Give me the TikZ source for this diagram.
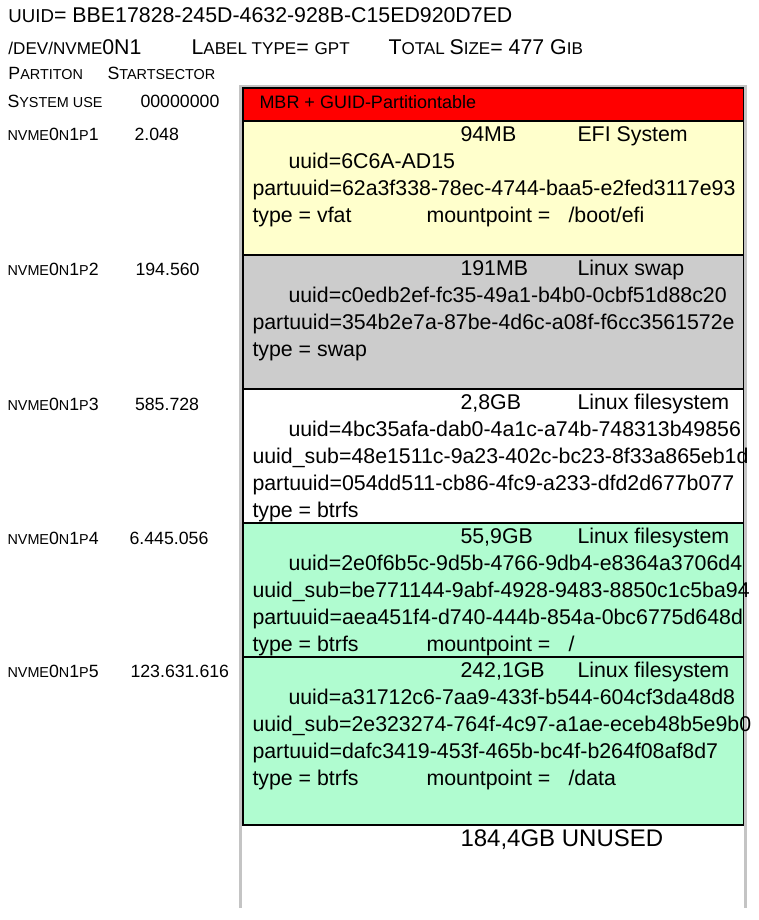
\documentclass[tikz,border=0pt]{standalone}
\usepackage{fontspec}
\setmainfont{Liberation Sans}

\definecolor{mbrred}{RGB}{255,0,0}
\definecolor{efiyellow}{RGB}{255,255,204}
\definecolor{swapgray}{RGB}{204,204,204}
\definecolor{fsgreen}{RGB}{176,252,208}
\definecolor{framegray}{RGB}{196,196,196}

% fake small caps
\newcommand\smcA[1]{{\fontsize{12.8}{15}\selectfont #1}}
\newcommand\smcB[1]{{\fontsize{10.8}{13}\selectfont #1}}

\tikzset{every picture/.style={line width=0.75pt},
  partbox/.style={draw=black, line width=1.1pt},
  txt/.style={anchor=base west, inner sep=0pt, font=\fontsize{16}{19}\selectfont},
  side/.style={anchor=base west, inner sep=0pt, font=\fontsize{13.3}{16}\selectfont}}

\begin{document}
\begin{tikzpicture}[x=0.75pt,y=0.75pt,yscale=-1,xscale=1]
    \useasboundingbox (0,0) rectangle (758,920);

    %Shape: Frame
    \draw [color=framegray, line width=2.1pt] (240.6,908) -- (240.6,86.5) -- (745.6,86.5) -- (745.6,908) ;

    %Shape: Rectangle
    \draw [partbox, fill=mbrred] (243,88) -- (743.5,88) -- (743.5,121) -- (243,121) -- cycle ;
    %Shape: Rectangle
    \draw [partbox, fill=efiyellow] (243,121) -- (743.5,121) -- (743.5,255) -- (243,255) -- cycle ;
    %Shape: Rectangle
    \draw [partbox, fill=swapgray] (243,255) -- (743.5,255) -- (743.5,389) -- (243,389) -- cycle ;
    %Shape: Rectangle
    \draw [partbox, fill=white] (243,389) -- (743.5,389) -- (743.5,523) -- (243,523) -- cycle ;
    %Shape: Rectangle
    \draw [partbox, fill=fsgreen] (243,523) -- (743.5,523) -- (743.5,657) -- (243,657) -- cycle ;
    %Shape: Rectangle
    \draw [partbox, fill=fsgreen] (243,657) -- (743.5,657) -- (743.5,825) -- (243,825) -- cycle ;

    % Text Node
    \draw (8,22.6) node [txt] (hdruuid) {{\fontsize{14}{17}\selectfont UUID}= BBE17828-245D-4632-928B-C15ED920D7ED};
    % Text Node
    \draw (8,54.6) node [txt] (hdrdev) {\smcA{/DEV/NVME}0N1};
    % Text Node
    \draw (191,54.6) node [txt] (hdrlabel) {L\smcA{ABEL TYPE}= \smcA{GPT}};
    % Text Node
    \draw (388,54.6) node [txt] (hdrsize) {T\smcA{OTAL }S\smcA{IZE}= 477 G\smcA{IB}};
    % Text Node
    \draw (8,79.3) node [side] (colpart) {P\smcB{ARTITON}};
    % Text Node
    \draw (107,79.3) node [side] (colstart) {S\smcB{TARTSECTOR}};

    % Text Node
    \draw (7,107.5) node [side] (sysname) {S\smcB{YSTEM USE}};
    % Text Node
    \draw (140,107.5) node [side] (sysstart) {00000000};
    % Text Node
    \draw (7,140.7) node [side] (p1name) {\smcB{NVME}0\smcB{N}1\smcB{P}1};
    % Text Node
    \draw (134,140.7) node [side] (p1start) {2.048};
    % Text Node
    \draw (7,275.7) node [side] (p2name) {\smcB{NVME}0\smcB{N}1\smcB{P}2};
    % Text Node
    \draw (135,275.7) node [side] (p2start) {194.560};
    % Text Node
    \draw (7,410) node [side] (p3name) {\smcB{NVME}0\smcB{N}1\smcB{P}3};
    % Text Node
    \draw (134.5,410) node [side] (p3start) {585.728};
    % Text Node
    \draw (7,544) node [side] (p4name) {\smcB{NVME}0\smcB{N}1\smcB{P}4};
    % Text Node
    \draw (129,544) node [side] (p4start) {6.445.056};
    % Text Node
    \draw (7,677) node [side] (p5name) {\smcB{NVME}0\smcB{N}1\smcB{P}5};
    % Text Node
    \draw (130,677) node [side] (p5start) {123.631.616};

    % Text Node
    \draw (259,108.5) node [txt, font=\fontsize{13.5}{16}\selectfont] (mbr) {MBR + GUID-Partitiontable};

    % Text Node
    \draw (460,141.5) node [txt] (p1size) {94MB};
    % Text Node
    \draw (577,141.5) node [txt] (p1kind) {EFI System};
    % Text Node
    \draw (288,168.5) node [txt] (p1uuid) {uuid=6C6A-AD15};
    % Text Node
    \draw (252,195.5) node [txt] (p1partuuid) {partuuid=62a3f338-78ec-4744-baa5-e2fed3117e93};
    % Text Node
    \draw (252,222.5) node [txt] (p1type) {type = vfat};
    % Text Node
    \draw (426,222.5) node [txt] (p1mount) {mountpoint =};
    % Text Node
    \draw (568,222.5) node [txt] (p1path) {/boot/efi};

    % Text Node
    \draw (460,275.5) node [txt] (p2size) {191MB};
    % Text Node
    \draw (577,275.5) node [txt] (p2kind) {Linux swap};
    % Text Node
    \draw (288,302.5) node [txt] (p2uuid) {uuid=c0edb2ef-fc35-49a1-b4b0-0cbf51d88c20};
    % Text Node
    \draw (252,329.5) node [txt] (p2partuuid) {partuuid=354b2e7a-87be-4d6c-a08f-f6cc3561572e};
    % Text Node
    \draw (252,356.5) node [txt] (p2type) {type = swap};

    % Text Node
    \draw (460,409.5) node [txt] (p3size) {2,8GB};
    % Text Node
    \draw (577,409.5) node [txt] (p3kind) {Linux filesystem};
    % Text Node
    \draw (288,436.5) node [txt] (p3uuid) {uuid=4bc35afa-dab0-4a1c-a74b-748313b49856};
    % Text Node
    \draw (252,463.5) node [txt] (p3sub) {uuid\_sub=48e1511c-9a23-402c-bc23-8f33a865eb1d};
    % Text Node
    \draw (252,490.5) node [txt] (p3partuuid) {partuuid=054dd511-cb86-4fc9-a233-dfd2d677b077};
    % Text Node
    \draw (252,517.5) node [txt] (p3type) {type = btrfs};

    % Text Node
    \draw (460,543.5) node [txt] (p4size) {55,9GB};
    % Text Node
    \draw (577,543.5) node [txt] (p4kind) {Linux filesystem};
    % Text Node
    \draw (288,570.5) node [txt] (p4uuid) {uuid=2e0f6b5c-9d5b-4766-9db4-e8364a3706d4};
    % Text Node
    \draw (252,597.5) node [txt] (p4sub) {uuid\_sub=be771144-9abf-4928-9483-8850c1c5ba94};
    % Text Node
    \draw (252,624.5) node [txt] (p4partuuid) {partuuid=aea451f4-d740-444b-854a-0bc6775d648d};
    % Text Node
    \draw (252,651.5) node [txt] (p4type) {type = btrfs};
    % Text Node
    \draw (426,651.5) node [txt] (p4mount) {mountpoint =};
    % Text Node
    \draw (568,651.5) node [txt] (p4path) {/};

    % Text Node
    \draw (460,677.5) node [txt] (p5size) {242,1GB};
    % Text Node
    \draw (577,677.5) node [txt] (p5kind) {Linux filesystem};
    % Text Node
    \draw (288,704.5) node [txt] (p5uuid) {uuid=a31712c6-7aa9-433f-b544-604cf3da48d8};
    % Text Node
    \draw (252,731.5) node [txt] (p5sub) {uuid\_sub=2e323274-764f-4c97-a1ae-eceb48b5e9b0};
    % Text Node
    \draw (252,758.5) node [txt] (p5partuuid) {partuuid=dafc3419-453f-465b-bc4f-b264f08af8d7};
    % Text Node
    \draw (252,785.5) node [txt] (p5type) {type = btrfs};
    % Text Node
    \draw (426,785.5) node [txt] (p5mount) {mountpoint =};
    % Text Node
    \draw (568,785.5) node [txt] (p5path) {/data};

    % Text Node
    \draw (460,846.6) node [txt, font=\fontsize{18}{21}\selectfont] (unused) {184,4GB UNUSED};

\end{tikzpicture}
\end{document}
